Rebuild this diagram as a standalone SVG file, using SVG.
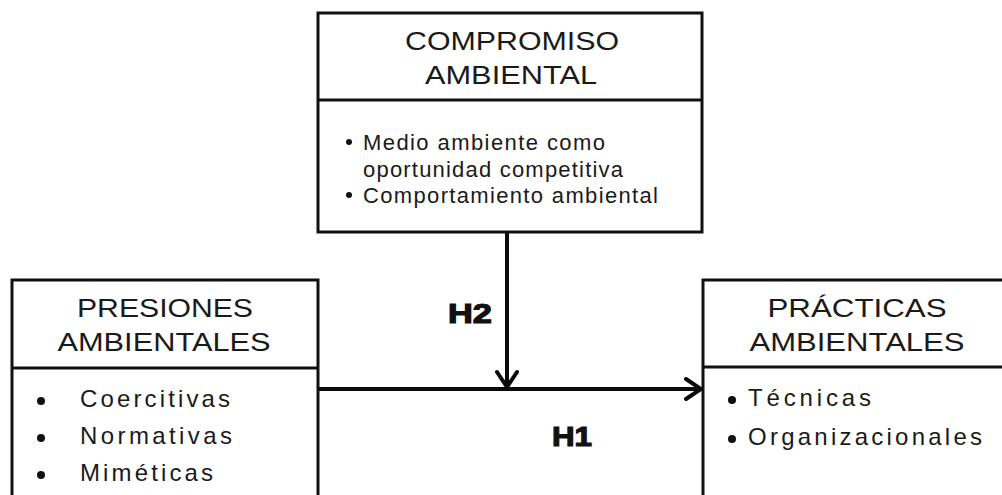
<svg xmlns="http://www.w3.org/2000/svg" width="1002" height="495" viewBox="0 0 1002 495">
  <style>
    .box { fill: #ffffff; stroke: #111111; stroke-width: 3; }
    .div { stroke: #111111; stroke-width: 3; }
    .title { font-family: "Liberation Sans", Arial, sans-serif; font-size: 26px; fill: #1a1a1a; text-anchor: middle; }
    .item { font-family: "Liberation Sans", Arial, sans-serif; font-size: 22px; fill: #1a1a1a; }
    .item2 { font-family: "Liberation Sans", Arial, sans-serif; font-size: 24px; fill: #1a1a1a; }
    .bullet { fill: #111111; }
    .conn { stroke: #0a0a0a; stroke-width: 4; fill: none; }
    .hlabel { font-family: "Liberation Sans", Arial, sans-serif; font-size: 28px; font-weight: bold; fill: #111111; stroke: #111111; stroke-width: 1.2; text-anchor: middle; }
  </style>
  <defs>
    <marker id="chev" markerUnits="userSpaceOnUse" viewBox="0 0 20 24" markerWidth="20" markerHeight="24" refX="18" refY="12" orient="auto">
      <path d="M3,2 L18,12 L3,22" fill="none" stroke="#0a0a0a" stroke-width="4" stroke-linecap="round" stroke-linejoin="miter"/>
    </marker>
  </defs>
  <rect width="1002" height="495" fill="#ffffff"/>

  <g id="compromiso">
    <rect class="box" x="318" y="13" width="384" height="219"/>
    <line class="div" x1="318" y1="100" x2="702" y2="100"/>
    <text class="title" x="512" y="50" textLength="214" lengthAdjust="spacingAndGlyphs">COMPROMISO</text>
    <text class="title" x="511" y="84" textLength="172" lengthAdjust="spacingAndGlyphs">AMBIENTAL</text>
    <circle class="bullet" cx="349" cy="142" r="3"/>
    <text class="item" x="363" y="150" textLength="242" lengthAdjust="spacing">Medio ambiente como</text>
    <text class="item" x="363" y="177" textLength="260" lengthAdjust="spacing">oportunidad competitiva</text>
    <circle class="bullet" cx="349" cy="195" r="3"/>
    <text class="item" x="363" y="203" textLength="295" lengthAdjust="spacing">Comportamiento ambiental</text>
  </g>

  <g id="presiones">
    <rect class="box" x="12" y="280" width="306" height="230"/>
    <line class="div" x1="12" y1="368" x2="318" y2="368"/>
    <text class="title" x="165" y="317" textLength="176" lengthAdjust="spacingAndGlyphs">PRESIONES</text>
    <text class="title" x="164" y="351" textLength="213" lengthAdjust="spacingAndGlyphs">AMBIENTALES</text>
    <circle class="bullet" cx="41" cy="401" r="4"/>
    <text class="item2" x="80" y="407" textLength="150" lengthAdjust="spacing">Coercitivas</text>
    <circle class="bullet" cx="41" cy="438" r="4"/>
    <text class="item2" x="80" y="444" textLength="152" lengthAdjust="spacing">Normativas</text>
    <circle class="bullet" cx="41" cy="475" r="4"/>
    <text class="item2" x="80" y="481" textLength="133" lengthAdjust="spacing">Miméticas</text>
  </g>

  <g id="practicas">
    <rect class="box" x="703" y="280" width="320" height="230"/>
    <line class="div" x1="703" y1="367" x2="1010" y2="367"/>
    <text class="title" x="857" y="317" textLength="179" lengthAdjust="spacingAndGlyphs">PRÁCTICAS</text>
    <text class="title" x="857" y="351" textLength="215" lengthAdjust="spacingAndGlyphs">AMBIENTALES</text>
    <circle class="bullet" cx="732" cy="400" r="4"/>
    <text class="item2" x="748" y="406" textLength="123" lengthAdjust="spacing">Técnicas</text>
    <circle class="bullet" cx="732" cy="439" r="4"/>
    <text class="item2" x="748" y="445" textLength="234" lengthAdjust="spacing">Organizacionales</text>
  </g>

  <g id="connectors">
    <line class="conn" x1="507" y1="232" x2="507" y2="387" marker-end="url(#chev)"/>
    <line class="conn" x1="318" y1="389" x2="701" y2="389" marker-end="url(#chev)"/>
    <text class="hlabel" x="470" y="323" textLength="44" lengthAdjust="spacingAndGlyphs">H2</text>
    <text class="hlabel" x="572" y="446" textLength="40" lengthAdjust="spacingAndGlyphs">H1</text>
  </g>
</svg>
